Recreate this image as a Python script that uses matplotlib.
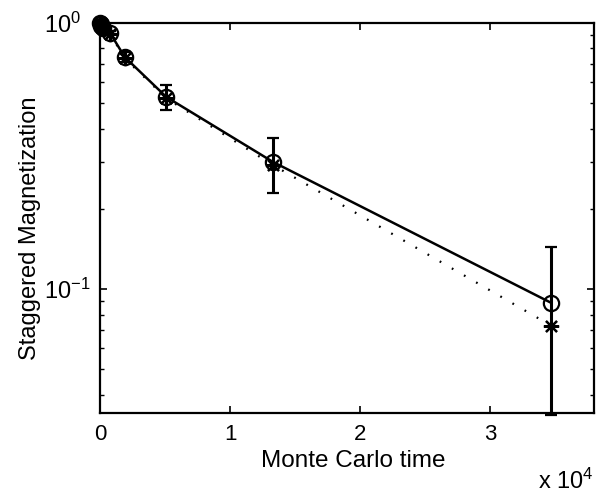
import matplotlib
matplotlib.use("Agg")
import matplotlib.pyplot as plt
from matplotlib.ticker import LogLocator, NullFormatter, FixedLocator

plt.rcParams['font.family'] = ['Liberation Sans', 'DejaVu Sans']
plt.rcParams['mathtext.fontset'] = 'custom'
plt.rcParams['mathtext.rm'] = 'Liberation Sans'
plt.rcParams['mathtext.it'] = 'Liberation Sans:italic'
plt.rcParams['mathtext.bf'] = 'Liberation Sans:bold'

# Monte Carlo time
t_vals = [0, 40, 100, 200, 770, 1900, 5100, 13300, 34700]
# staggered magnetization (circles, solid line, with error bars)
m_circle = [1.0, 0.99, 0.975, 0.955, 0.915, 0.743, 0.526, 0.300, 0.0887]
m_err = [0.0, 0.0, 0.0, 0.0, 0.012, 0.03, 0.056, 0.07, 0.055]
# second estimate (asterisks, dotted line)
m_star = [1.0, 0.99, 0.975, 0.955, 0.91, 0.735, 0.52, 0.292, 0.0728]

x_ticks = [0, 1e4, 2e4, 3e4]
x_tick_labels = ['0', '1', '2', '3']

fig = plt.figure(figsize=(6.04, 4.93), dpi=100)
ax = fig.add_axes([0.1656, 0.1623, 0.8178, 0.7917])

ax.plot(t_vals, m_star, linestyle=(0, (0.8, 5.5)), color='black', linewidth=1.6,
        marker=(8, 2, 0), markersize=11, markeredgewidth=1.6, clip_on=False, zorder=3)
ax.errorbar(t_vals, m_circle, yerr=m_err, color='black', linewidth=1.8,
            marker='o', markersize=11, markerfacecolor='none', markeredgewidth=1.6,
            elinewidth=2.2, capsize=4, capthick=2.2, clip_on=False, zorder=4)

ax.set_yscale('log')
ax.set_xlim(0, 3.8e4)
ax.set_ylim(0.0342, 1.0)

ax.xaxis.set_major_locator(FixedLocator(x_ticks))
ax.set_xticklabels(x_tick_labels)
ax.yaxis.set_major_locator(LogLocator(base=10, numticks=5))
ax.yaxis.set_minor_locator(LogLocator(base=10, subs=range(2, 10), numticks=10))
ax.yaxis.set_minor_formatter(NullFormatter())

ax.tick_params(which='both', direction='in', top=True, right=True)
ax.tick_params(axis='x', labelsize=16, pad=8)
ax.tick_params(axis='y', labelsize=17, pad=40)
ax.tick_params(which='major', length=5, width=1.2)
ax.tick_params(which='minor', length=3, width=1.0)
for s in ax.spines.values():
    s.set_linewidth(1.6)

ax.set_xlabel('Monte Carlo time', fontsize=17.5)
ax.set_ylabel('Staggered Magnetization', fontsize=17)
ax.xaxis.set_label_coords(0.512, -0.095)
ax.yaxis.set_label_coords(-0.12, 0.474)

fig.canvas.draw()
for tick in ax.yaxis.get_major_ticks():
    tick.label1.set_horizontalalignment('left')

fig.text(0.89, 0.008, r'x 10$^{4}$', fontsize=17, ha='left', va='baseline')

fig.savefig('out.png', dpi=100)
